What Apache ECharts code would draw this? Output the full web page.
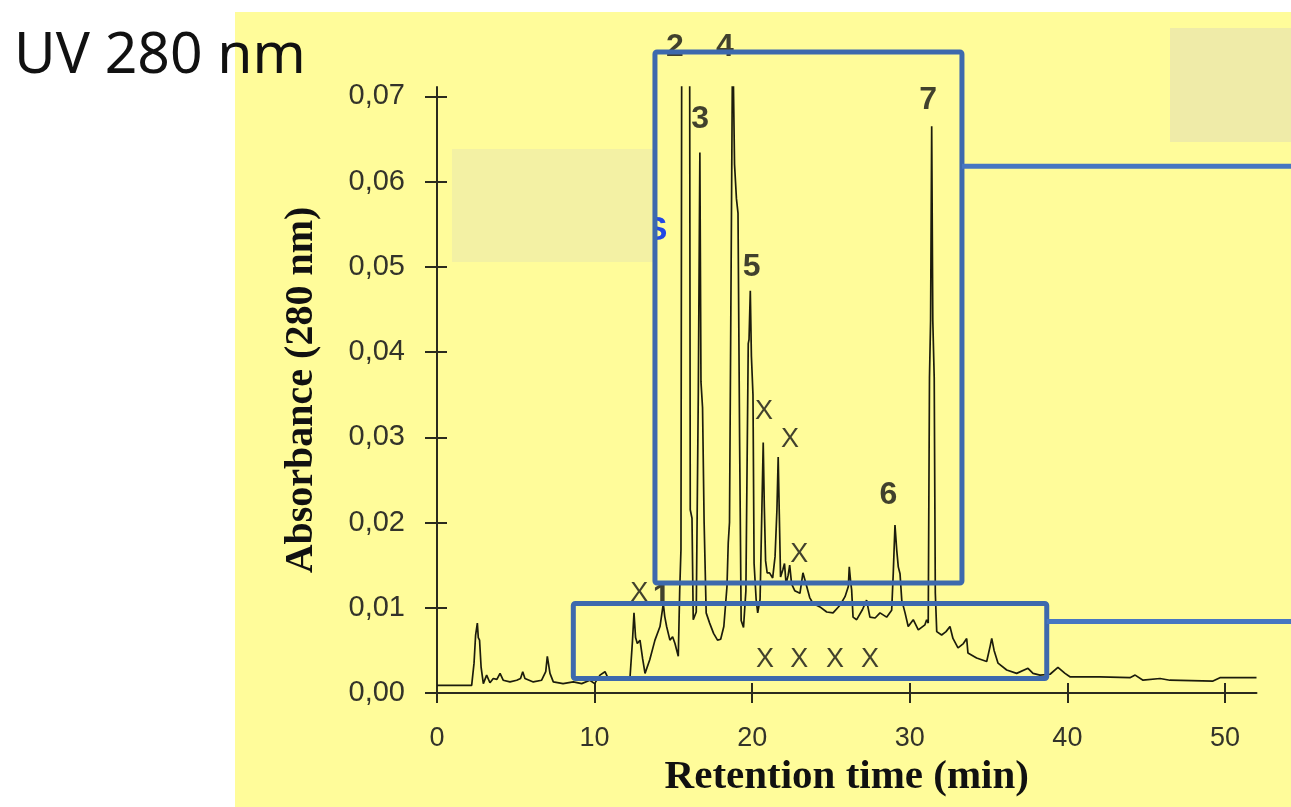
<!DOCTYPE html>
<html>
<head>
<meta charset="utf-8">
<title>UV 280 nm</title>
<script src="https://cdn.jsdelivr.net/npm/echarts@6/dist/echarts.min.js"></script>
<style>
    html, body { margin: 0; padding: 0; background: #ffffff; }
    #chart { width: 1291px; height: 807px; }
</style>
</head>
<body>
<div id="chart"></div>
<script>
// chromatogram: retention time (min) / absorbance (280 nm)
// peaks 2 and 4 run off the top of the scale
var retentionTime = [
    0.0, 2.2, 2.35, 2.45, 2.56, 2.62, 2.7, 2.8, 2.94, 3.15, 3.36, 3.57, 3.8, 4.0, 4.2, 4.63,
    5.06, 5.3, 5.44, 5.58, 6.11, 6.64, 6.9, 7.0, 7.07, 7.17, 7.38, 8.0, 8.65, 9.18, 9.7, 10.0,
    10.34, 10.66, 10.87, 11.4, 12.0, 12.25, 12.4, 12.5, 12.6, 12.71, 12.88, 13.05, 13.2, 13.5,
    13.83, 14.15, 14.36, 14.45, 14.57, 14.78, 14.95, 15.1, 15.31, 15.4, 15.48, 15.53, 16.03,
    16.07, 16.18, 16.26, 16.45, 16.58, 16.68, 16.75, 16.85, 16.95, 17.08, 17.3, 17.55, 17.8,
    18.0, 18.2, 18.4, 18.48, 18.56, 18.76, 18.84, 18.88, 19.0, 19.1, 19.2, 19.3, 19.45,
    19.6, 19.75, 19.8, 19.88, 19.95, 20.05, 20.12, 20.25, 20.35, 20.5, 20.62, 20.7, 20.77,
    20.85, 20.95, 21.1, 21.3, 21.45, 21.57, 21.65, 21.72, 21.8, 21.95, 22.05, 22.15, 22.28,
    22.38, 22.5, 22.7, 23.03, 23.22, 23.46, 23.65, 23.86, 24.3, 24.73, 25.13, 25.57, 25.89,
    26.1, 26.16, 26.25, 26.31, 26.4, 26.63, 27.0, 27.26, 27.47, 27.8, 28.11, 28.53, 28.85,
    28.95, 29.06, 29.17, 29.27, 29.38, 29.49, 29.7, 29.9, 30.22, 30.54, 30.96, 31.07, 31.17,
    31.25, 31.32, 31.39, 31.46, 31.55, 31.62, 31.71, 32.02, 32.3, 32.55, 32.74, 33.06, 33.4,
    33.61, 33.69, 34.24, 34.88, 35.1, 35.2, 35.35, 35.6, 36.15, 36.78, 37.5, 37.82, 38.26,
    38.9, 39.4, 39.85, 40.16, 42.07, 43.97, 44.3, 44.8, 45.88, 46.5, 49.24, 49.68, 52.0
];
var absorbance = [
    0.0009, 0.0009, 0.0035, 0.0068, 0.0082, 0.0065, 0.0062, 0.003, 0.0011, 0.0021, 0.0012, 0.0017, 0.0016, 0.0023, 0.0015, 0.0013,
    0.0015, 0.0017, 0.0025, 0.0017, 0.0013, 0.0015, 0.0025, 0.0043, 0.0045, 0.0023, 0.0013, 0.0011, 0.0013, 0.0011, 0.0015, 0.0011,
    0.0021, 0.0025, 0.0017, 0.0016, 0.0017, 0.0019, 0.006, 0.0094, 0.0065, 0.0058, 0.0062, 0.004, 0.0023, 0.0039,
    0.0062, 0.0078, 0.0105, 0.009, 0.0078, 0.0062, 0.0066, 0.0058, 0.0043, 0.012, 0.0168, 0.078, 0.078,
    0.0215, 0.0205, 0.0086, 0.0095, 0.035, 0.0634, 0.0365, 0.0335, 0.02, 0.0094, 0.0082, 0.007, 0.0062,
    0.0063, 0.0078, 0.0125, 0.0176, 0.02, 0.078, 0.078, 0.062, 0.058, 0.0563, 0.03, 0.0085, 0.0077,
    0.012, 0.041, 0.0415, 0.0472, 0.0395, 0.035, 0.0152, 0.011, 0.0094, 0.011, 0.022, 0.0294, 0.0218,
    0.0155, 0.0141, 0.0141, 0.0135, 0.016, 0.0215, 0.0277, 0.021, 0.0136, 0.0145, 0.0152, 0.0128, 0.0138,
    0.015, 0.0128, 0.012, 0.0117, 0.0141, 0.0125, 0.0112, 0.0105, 0.0101, 0.0095, 0.0094, 0.0103, 0.0113,
    0.0125, 0.0148, 0.013, 0.0121, 0.0089, 0.0086, 0.0098, 0.0109, 0.0089, 0.0088, 0.0094, 0.0089, 0.0097,
    0.014, 0.0197, 0.0168, 0.0148, 0.014, 0.0109, 0.0094, 0.0078, 0.0086, 0.0074, 0.008, 0.0086, 0.0082,
    0.037, 0.0437, 0.0665, 0.0437, 0.037, 0.0117, 0.0072, 0.0068, 0.0072, 0.0078, 0.0064, 0.0053, 0.0058,
    0.0064, 0.0047, 0.0041, 0.0037, 0.0055, 0.0064, 0.005, 0.0035, 0.0027, 0.0023, 0.0029, 0.0023, 0.0021,
    0.0022, 0.003, 0.0023, 0.0019, 0.0019, 0.0018, 0.0021, 0.0015, 0.0017, 0.0015, 0.0014, 0.0018, 0.0018
];

// peak annotations
var peakText = ['2', '4', '3', '5', '7', '6', 'X', 'X', 'X', 'X', 'X', 'X', 'X', 'X', '1'];
var peakTime = [15.1, 18.27, 16.69, 19.97, 31.17, 28.64, 20.75, 22.4, 22.99, 20.81, 22.99, 25.25, 27.47, 12.84, 14.26];
var peakAbs = [0.0758, 0.0758, 0.0673, 0.05, 0.0696, 0.0232, 0.033, 0.0297, 0.0162, 0.0039, 0.0039, 0.0039, 0.0039, 0.0117, 0.0113];

var xTicks = [0, 10, 20, 30, 40, 50];
var yTicks = [0, 0.01, 0.02, 0.03, 0.04, 0.05, 0.06, 0.07];

// highlight boxes: [t0, t1], [a0, a1], connector level
var boxTime = [[13.83, 33.31], [8.65, 38.69]];
var boxAbs = [[0.0129, 0.0752], [0.0017, 0.0105]];
var boxLink = [0.0618, 0.0084];

var trace = [];
for (var i = 0; i < retentionTime.length; i++) {
    trace.push([retentionTime[i], absorbance[i]]);
}

var labels = [];
for (var j = 0; j < peakText.length; j++) {
    var isX = peakText[j] === 'X';
    labels.push({
        value: [peakTime[j], peakAbs[j]],
        name: peakText[j],
        label: {
            fontSize: isX ? 27 : 32,
            fontWeight: isX ? 'normal' : 'bold'
        }
    });
}

var dom = document.getElementById('chart');
var myChart = echarts.init(dom, null, {renderer: 'canvas'});

var tickColor = '#2b2b1e';
var labelFont = {color: '#33332a', fontFamily: 'Liberation Sans, Arial, sans-serif'};

option = {
    animation: false,
    backgroundColor: '#ffffff',
    grid: {left: 437, right: 34.5, top: 87, bottom: 114, containLabel: false},
    xAxis: [
        {
            type: 'value',
            min: 0,
            max: 52,
            name: 'Retention time (min)',
            nameLocation: 'middle',
            nameGap: 58,
            nameTextStyle: {color: '#111', fontSize: 41, fontWeight: 'bold', fontFamily: 'Liberation Serif, Times New Roman, serif'},
            axisLine: {show: true, onZero: false, lineStyle: {color: tickColor, width: 2}},
            axisTick: {show: true, length: 10, customValues: xTicks, lineStyle: {color: tickColor, width: 2}},
            axisLabel: {
                margin: 32,
                customValues: xTicks,
                color: labelFont.color, fontSize: 27, fontFamily: labelFont.fontFamily
            },
            splitLine: {show: false}
        },
        {
            type: 'value',
            min: 0,
            max: 52,
            position: 'bottom',
            axisLine: {show: false},
            axisTick: {show: true, inside: true, length: 10, customValues: xTicks, lineStyle: {color: tickColor, width: 2}},
            axisLabel: {show: false},
            splitLine: {show: false}
        }
    ],
    yAxis: [
        {
            type: 'value',
            min: 0,
            max: 0.0711,
            name: 'Absorbance (280 nm)',
            nameLocation: 'middle',
            nameRotate: 90,
            nameGap: 115,
            nameTextStyle: {color: '#111', fontSize: 40, fontWeight: 'bold', fontFamily: 'Liberation Serif, Times New Roman, serif'},
            axisLine: {show: true, onZero: false, lineStyle: {color: tickColor, width: 2}},
            axisTick: {show: true, length: 12, customValues: yTicks, lineStyle: {color: tickColor, width: 2}},
            axisLabel: {
                margin: 32,
                customValues: yTicks,
                color: labelFont.color, fontSize: 29, fontFamily: labelFont.fontFamily,
                formatter: function (v) {
                    return v.toFixed(2).replace('.', ',');
                }
            },
            splitLine: {show: false}
        },
        {
            type: 'value',
            min: 0,
            max: 0.0711,
            position: 'left',
            axisLine: {show: false},
            axisTick: {show: true, inside: true, length: 10, customValues: yTicks, lineStyle: {color: tickColor, width: 2}},
            axisLabel: {show: false},
            splitLine: {show: false}
        }
    ],
    series: [
        {
            name: 'UV 280 nm',
            type: 'line',
            data: trace,
            showSymbol: false,
            clip: true,
            z: 3,
            lineStyle: {color: '#1c1c0c', width: 1.7}
        },
        {
            name: 'peaks',
            type: 'scatter',
            data: labels,
            symbolSize: 1,
            clip: false,
            silent: true,
            z: 4,
            itemStyle: {color: 'rgba(0,0,0,0)'},
            label: {
                show: true,
                position: 'inside',
                formatter: '{b}',
                color: '#111',
                fontFamily: 'Liberation Sans, Arial, sans-serif'
            }
        }
    ]
};

if (option && typeof option === "object") {
    myChart.setOption(option, true);
}

// page decoration + boxes placed from data coordinates
var W = 1291;
var boxColor = '#3d69ad';
var linkColor = '#4676c2';
var els = [
    {type: 'rect', z: -10, shape: {x: 235, y: 12, width: W - 235, height: 807 - 12}, style: {fill: '#fffc9a'}},
    {type: 'text', z: -9.5, x: 656, y: 231, style: {
        text: 'S', fill: '#2247e6', font: 'bold 34px "Liberation Sans", Arial, sans-serif',
        textAlign: 'center', textVerticalAlign: 'middle'
    }},
    {type: 'rect', z: -9, shape: {x: 452, y: 149, width: 203, height: 113}, style: {fill: '#f3f1a4'}},
    {type: 'rect', z: -9, shape: {x: 1170, y: 28, width: W - 1170, height: 114}, style: {fill: '#efeba8'}},
    {type: 'text', z: 20, x: 14, y: 57, style: {
        text: 'UV 280 nm', fill: '#111', font: '57px "Noto Sans", "Open Sans", sans-serif',
        textVerticalAlign: 'middle'
    }}
];
for (var k = 0; k < boxTime.length; k++) {
    var p0 = myChart.convertToPixel({gridIndex: 0}, [boxTime[k][0], boxAbs[k][1]]);
    var p1 = myChart.convertToPixel({gridIndex: 0}, [boxTime[k][1], boxAbs[k][0]]);
    var pl = myChart.convertToPixel({gridIndex: 0}, [boxTime[k][1], boxLink[k]]);
    els.push({
        type: 'rect', z: 30,
        shape: {x: p0[0], y: p0[1], width: p1[0] - p0[0], height: p1[1] - p0[1], r: 2},
        style: {fill: null, stroke: boxColor, lineWidth: 5}
    });
    els.push({
        type: 'line', z: 30,
        shape: {x1: pl[0], y1: pl[1], x2: W, y2: pl[1]},
        style: {stroke: linkColor, lineWidth: 5}
    });
}
myChart.setOption({graphic: els});
</script>
</body>
</html>
